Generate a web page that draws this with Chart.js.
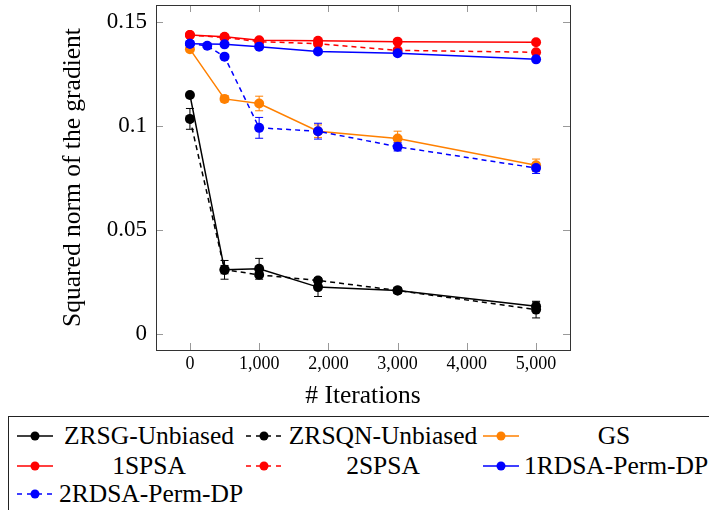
<!DOCTYPE html>
<html>
<head>
<meta charset="utf-8">
<script src="https://cdn.jsdelivr.net/npm/chart.js@4.4.1/dist/chart.umd.min.js"></script>
<style>
  body { margin: 0; background: #fff; }
  #wrap { position: relative; width: 709px; height: 510px; overflow: hidden;
          font-family: "Liberation Serif", "Times New Roman", serif; }
  #legend { position: absolute; left: 8px; top: 416px; width: 730px; height: 120px;
            border: 1px solid #222; box-sizing: border-box; }
  .sample { position: absolute; }
  .label { position: absolute; height: 28px; line-height: 28px; font-size: 25.5px;
           text-align: center; white-space: nowrap; color: #000; }
</style>
</head>
<body>
<div id="wrap">
  <canvas id="chart" width="709" height="416"></canvas>
  <div id="legend"></div>
</div>
<script>
"use strict";

// iterations on the x axis
const iters = [0, 500, 1000, 1850, 3000, 5000];
const itersRdsa2 = [0, 250, 500, 1000, 1850, 3000, 5000];

// squared norm of the gradient, with error bar half-widths
const zrsg      = [0.1149, 0.0309, 0.0314, 0.0226, 0.0210, 0.0134];
const zrsgErr   = [0.0005, 0.0045, 0.0050, 0.0045, 0.0015, 0.0020];
const zrsqn     = [0.1034, 0.0310, 0.0285, 0.0258, 0.0210, 0.0118];
const zrsqnErr  = [0.0050, 0.0020, 0.0010, 0.0010, 0.0015, 0.0040];
const gs        = [0.1369, 0.1130, 0.1108, 0.0975, 0.0940, 0.0811];
const gsErr     = [0.0010, 0.0015, 0.0035, 0.0030, 0.0035, 0.0030];
const spsa1     = [0.1437, 0.1428, 0.1412, 0.1409, 0.1405, 0.1402];
const spsa1Err  = [0.0008, 0.0008, 0.0008, 0.0008, 0.0008, 0.0008];
const spsa2     = [0.1437, 0.1425, 0.1405, 0.1395, 0.1363, 0.1354];
const spsa2Err  = [0.0008, 0.0008, 0.0008, 0.0008, 0.0008, 0.0008];
const rdsa1     = [0.1395, 0.1392, 0.1381, 0.1358, 0.1349, 0.1320];
const rdsa1Err  = [0.0008, 0.0008, 0.0008, 0.0008, 0.0008, 0.0008];
const rdsa2     = [0.1395, 0.1385, 0.1333, 0.0991, 0.0975, 0.0900, 0.0798];
const rdsa2Err  = [0.0000, 0.0000, 0.0010, 0.0050, 0.0038, 0.0020, 0.0026];

const labels = ['ZRSG-Unbiased', 'ZRSQN-Unbiased', 'GS', '1SPSA', '2SPSA',
                '1RDSA-Perm-DP', '2RDSA-Perm-DP'];

const xTicks = [0, 1000, 2000, 3000, 4000, 5000];
const xTickLabels = ['0', '1,000', '2,000', '3,000', '4,000', '5,000'];
const yTicks = [0, 0.05, 0.1, 0.15];
const yTickLabels = ['0', '0.05', '0.1', '0.15'];

const ORANGE = '#ff8000';
const series = [
  { x: iters, y: zrsg, err: zrsgErr, color: '#000000', dash: [] },
  { x: iters, y: zrsqn, err: zrsqnErr, color: '#000000', dash: [5, 4] },
  { x: iters, y: gs, err: gsErr, color: ORANGE, dash: [] },
  { x: iters, y: spsa1, err: spsa1Err, color: '#ff0000', dash: [] },
  { x: iters, y: spsa2, err: spsa2Err, color: '#ff0000', dash: [5, 4] },
  { x: iters, y: rdsa1, err: rdsa1Err, color: '#0000ff', dash: [] },
  { x: itersRdsa2, y: rdsa2, err: rdsa2Err, color: '#0000ff', dash: [5, 4] },
];

const datasets = series.map((s, i) => ({
  label: labels[i],
  data: s.x.map((x, j) => ({ x: x, y: s.y[j] })),
  errors: s.err,
  borderColor: s.color,
  backgroundColor: s.color,
  pointBackgroundColor: s.color,
  pointBorderWidth: 0,
  pointRadius: 5,
  borderWidth: 1.5,
  borderDash: s.dash,
  tension: 0,
  order: -i,
}));

const errorBars = {
  id: 'errorBars',
  beforeDatasetsDraw(chart) {
    const ctx = chart.ctx;
    const xs = chart.scales.x, ys = chart.scales.y;
    ctx.save();
    chart.data.datasets.forEach(ds => {
      ctx.strokeStyle = ds.borderColor;
      ctx.lineWidth = 1;
      ds.data.forEach((p, j) => {
        const e = ds.errors[j];
        if (!e) return;
        const px = xs.getPixelForValue(p.x);
        const top = ys.getPixelForValue(p.y + e);
        const bot = ys.getPixelForValue(p.y - e);
        ctx.beginPath();
        ctx.moveTo(px, top); ctx.lineTo(px, bot);
        ctx.moveTo(px - 4, top); ctx.lineTo(px + 4, top);
        ctx.moveTo(px - 4, bot); ctx.lineTo(px + 4, bot);
        ctx.stroke();
      });
    });
    ctx.restore();
  }
};

const frame = {
  id: 'frame',
  afterDraw(chart) {
    const ctx = chart.ctx;
    const a = chart.chartArea;
    const xs = chart.scales.x, ys = chart.scales.y;
    ctx.save();
    ctx.strokeStyle = '#999';
    ctx.lineWidth = 1;
    ctx.beginPath();
    xTicks.forEach(v => {
      const px = Math.round(xs.getPixelForValue(v)) + 0.5;
      ctx.moveTo(px, a.top); ctx.lineTo(px, a.top + 7);
      ctx.moveTo(px, a.bottom); ctx.lineTo(px, a.bottom - 7);
    });
    yTicks.forEach(v => {
      const py = Math.round(ys.getPixelForValue(v)) + 0.5;
      ctx.moveTo(a.left, py); ctx.lineTo(a.left + 7, py);
      ctx.moveTo(a.right, py); ctx.lineTo(a.right - 7, py);
    });
    ctx.stroke();
    ctx.strokeStyle = '#333';
    ctx.strokeRect(Math.round(a.left) + 0.5, Math.round(a.top) + 0.5,
                   Math.round(a.right - a.left), Math.round(a.bottom - a.top));
    ctx.restore();
  }
};

const serif = '"Liberation Serif", "Times New Roman", serif';

new Chart(document.getElementById('chart'), {
  type: 'line',
  data: { datasets: datasets },
  plugins: [errorBars, frame],
  options: {
    responsive: false,
    devicePixelRatio: 1,
    animation: false,
    layout: { padding: { top: 3, right: 139, left: 0, bottom: 0 } },
    plugins: { legend: { display: false }, tooltip: { enabled: false } },
    scales: {
      x: {
        type: 'linear',
        min: -490,
        max: 5490,
        afterBuildTicks: s => { s.ticks = xTicks.map(v => ({ value: v })); },
        afterFit: s => { s.height = 66; s.paddingLeft = 0; s.paddingRight = 0; },
        grid: { display: false, drawTicks: false },
        border: { display: false },
        ticks: {
          autoSkip: false, maxRotation: 0, padding: 3, color: '#000',
          font: { family: serif, size: 18 },
          callback: v => xTickLabels[xTicks.indexOf(v)],
        },
        title: {
          display: true, text: '# Iterations', color: '#000',
          font: { family: serif, size: 25.5 },
          padding: { top: 0, bottom: 4 },
        },
      },
      y: {
        type: 'linear',
        min: -0.0076,
        max: 0.1581,
        afterBuildTicks: s => { s.ticks = yTicks.map(v => ({ value: v })); },
        afterFit: s => { s.width = 156; s.paddingTop = 0; s.paddingBottom = 0; },
        grid: { display: false, drawTicks: false },
        border: { display: false },
        ticks: {
          autoSkip: false, padding: 9, color: '#000',
          font: { family: serif, size: 23 },
          callback: v => yTickLabels[yTicks.indexOf(v)],
        },
        title: {
          display: true, text: 'Squared norm of the gradient', color: '#000',
          font: { family: serif, size: 25.5 },
          padding: { top: 58, bottom: 0 },
        },
      },
    },
  },
});

// legend: three columns, filled row by row
const colSample = [8, 237, 474];
const colText = [50, 279, 515];
const colWidth = [180, 190, 180];
const rowMid = [19, 49, 77];
const legend = document.getElementById('legend');
series.forEach((s, i) => {
  const c = i % 3, r = Math.floor(i / 3);
  const svgNS = 'http://www.w3.org/2000/svg';
  const svg = document.createElementNS(svgNS, 'svg');
  svg.setAttribute('width', 36);
  svg.setAttribute('height', 12);
  svg.setAttribute('class', 'sample');
  svg.style.left = colSample[c] + 'px';
  svg.style.top = (rowMid[r] - 6) + 'px';
  const line = document.createElementNS(svgNS, 'line');
  line.setAttribute('x1', 0); line.setAttribute('x2', 36);
  line.setAttribute('y1', 6); line.setAttribute('y2', 6);
  line.setAttribute('stroke', s.color);
  line.setAttribute('stroke-width', 1.5);
  if (s.dash.length) line.setAttribute('stroke-dasharray', '5 5');
  const dot = document.createElementNS(svgNS, 'circle');
  dot.setAttribute('cx', 18); dot.setAttribute('cy', 6); dot.setAttribute('r', 4.5);
  dot.setAttribute('fill', s.color);
  svg.appendChild(line); svg.appendChild(dot);
  legend.appendChild(svg);
  const lab = document.createElement('div');
  lab.className = 'label';
  lab.textContent = labels[i];
  lab.style.left = colText[c] + 'px';
  lab.style.width = colWidth[c] + 'px';
  lab.style.top = (rowMid[r] - 14) + 'px';
  legend.appendChild(lab);
});
</script>
</body>
</html>
